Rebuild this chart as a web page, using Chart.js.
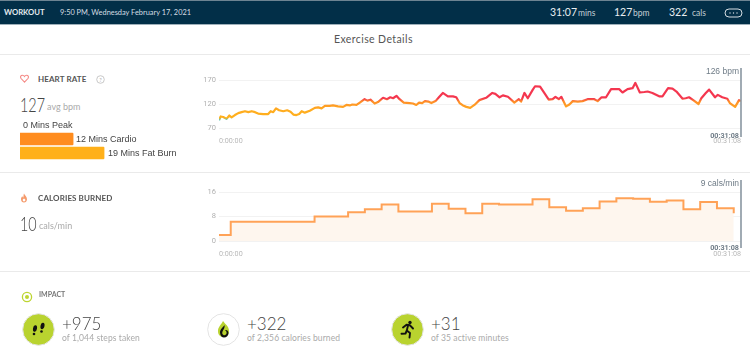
<!DOCTYPE html>
<html>
<head>
<meta charset="utf-8">
<title>Exercise Details</title>
<script src="https://cdn.jsdelivr.net/npm/chart.js@4"></script>
<style>
  html, body { margin: 0; padding: 0; background: #fff; overflow: hidden; }
  body { position: relative; width: 750px; height: 356px; font-family: Lato, "Open Sans", sans-serif; color: #555; }
  .t { position: absolute; white-space: nowrap; line-height: 1; }
  .rule { position: absolute; left: 0; width: 750px; height: 1px; background: #eaeaea; }
  canvas { position: absolute; }
  svg { position: absolute; }
  #header { position: absolute; left: 0; top: 0; width: 750px; height: 25px; background: #022f48; border-top: 1px solid #6d8492; border-bottom: 1px solid #9fb0ba; box-sizing: border-box; }
  .h { color: #d4dde2; }
  .big { color: #e8edf0; font-size: 10.5px; }
  .unit { color: #c3ced5; font-size: 8.5px; }
  .sect { font-size: 8px; font-weight: 700; color: #555; letter-spacing: .1px; }
  .num { font-size: 20px; color: #444; font-weight: 300; transform: scaleX(.72); transform-origin: 0 0; }
  .avg { font-size: 9px; color: #aaa; }
  .zone { font-family: "Liberation Sans", sans-serif; font-size: 9px; color: #444; }
  .val { font-size: 17px; color: #444; font-weight: 300; }
  .sub { font-size: 8.5px; color: #aaa; letter-spacing: .1px; }
  .mark { font-family: "Liberation Sans", sans-serif; font-size: 8.5px; color: #6f7c87; }
  .markb { font-family: Roboto, sans-serif; font-size: 7.2px; font-weight: 700; color: #6f7c87; }
</style>
</head>
<body>

<div id="header"></div>
<div class="t h" style="left:4px;top:9px;font-size:7.7px;font-weight:700;color:#e4eaee">WORKOUT</div>
<div class="t h" style="left:60px;top:9px;font-size:7.4px">9:50 PM, Wednesday February 17, 2021</div>
<div class="t big" style="left:550px;top:7px">31:07</div>
<div class="t unit" style="left:578px;top:9px">mins</div>
<div class="t big" style="left:614px;top:7px">127</div>
<div class="t unit" style="left:633px;top:9px">bpm</div>
<div class="t big" style="left:669px;top:7px">322</div>
<div class="t unit" style="left:692px;top:9px">cals</div>
<svg style="left:724px;top:8px" width="20" height="10" viewBox="0 0 20 10">
  <rect x="1" y="1" width="17" height="8" rx="4" fill="none" stroke="#d4dde2" stroke-width="1"/>
  <circle cx="6" cy="5" r=".7" fill="#d4dde2"/><circle cx="9.5" cy="5" r=".7" fill="#d4dde2"/><circle cx="13" cy="5" r=".7" fill="#d4dde2"/>
</svg>

<div class="t" style="left:334px;top:34px;font-size:10.5px;color:#555;letter-spacing:.4px">Exercise Details</div>
<div class="rule" style="top:54px"></div>
<div class="rule" style="top:172px"></div>
<div class="rule" style="top:271px"></div>

<!-- heart rate panel -->
<svg style="left:20px;top:74px" width="9" height="9" viewBox="0 0 10 10">
  <path d="M5 9 L1.2 5 C0 3.4 .8 1.3 2.7 1.3 C3.7 1.3 4.5 1.8 5 2.7 C5.5 1.8 6.3 1.3 7.3 1.3 C9.2 1.3 10 3.4 8.8 5 Z" fill="none" stroke="#f58a86" stroke-width="1.2"/>
</svg>
<div class="t sect" style="left:38px;top:75px">HEART RATE</div>
<svg style="left:96px;top:75px" width="9" height="9" viewBox="0 0 9 9">
  <circle cx="4.5" cy="4.5" r="3.8" fill="none" stroke="#bbb" stroke-width=".8"/>
  <text x="4.5" y="6.5" font-size="5.5" text-anchor="middle" fill="#aaa" font-family="Lato">?</text>
</svg>
<div class="t num" style="left:20px;top:94px">127</div>
<div class="t avg" style="left:47px;top:102px">avg bpm</div>
<canvas id="zoneChart" width="100" height="42" style="left:20px;top:118px"></canvas>
<div class="t zone" style="left:23px;top:120.5px">0 Mins Peak</div>
<div class="t zone" style="left:76px;top:134.5px">12 Mins Cardio</div>
<div class="t zone" style="left:108px;top:148.5px">19 Mins Fat Burn</div>

<canvas id="heartChart" width="550" height="90" style="left:200px;top:60px"></canvas>
<div class="t mark" style="right:11px;top:67px">126 bpm</div>
<div class="t markb" style="right:11px;top:131.5px">00:31:08</div>

<!-- calories panel -->
<svg style="left:20px;top:193px" width="8" height="10" viewBox="0 0 8 10">
  <path d="M4 .5 C4.6 2.2 7 3.6 7 6.2 C7 8.2 5.6 9.5 4 9.5 C2.4 9.5 1 8.2 1 6.2 C1 5 1.6 4 2.4 3.3 C2.6 4.2 3 4.6 3.3 4.6 C3.6 3.4 3.4 2 4 .5 Z M4 8.4 C4.9 8.4 5.4 7.7 5.4 7 C5.4 6.2 4.6 5.8 4 5.4 C3.5 5.9 2.7 6.2 2.7 7 C2.7 7.8 3.2 8.4 4 8.4 Z" fill="#f59a6b" fill-rule="evenodd"/>
</svg>
<div class="t sect" style="left:38px;top:194px">CALORIES BURNED</div>
<div class="t num" style="left:20px;top:213px">10</div>
<div class="t avg" style="left:39px;top:221px">cals/min</div>

<canvas id="calChart" width="550" height="95" style="left:200px;top:170px"></canvas>
<div class="t mark" style="right:11px;top:179px">9 cals/min</div>
<div class="t markb" style="right:11px;top:243.5px">00:31:08</div>

<!-- impact row -->
<svg style="left:21px;top:291px" width="12" height="12" viewBox="0 0 12 12">
  <circle cx="6" cy="6" r="4.6" fill="none" stroke="#bdd532" stroke-width="1.3"/>
  <circle cx="6" cy="6" r="2" fill="#bdd532"/>
</svg>
<div class="t" style="left:39px;top:291px;font-size:7px;font-weight:700;color:#777">IMPACT</div>

<svg style="left:22px;top:313px" width="33" height="33" viewBox="0 0 33 33">
  <circle cx="16.5" cy="16.5" r="15.8" fill="#b9d32f" stroke="#e4e4e4" stroke-width="1"/>
  <ellipse cx="13" cy="15.5" rx="2" ry="3.2" transform="rotate(10 13 15.5)" fill="#111"/>
  <ellipse cx="12" cy="21" rx="1.3" ry="1.2" fill="#111"/>
  <ellipse cx="20.5" cy="13" rx="2" ry="3.2" transform="rotate(10 20.5 13)" fill="#111"/>
  <ellipse cx="19.5" cy="18.5" rx="1.3" ry="1.2" fill="#111"/>
</svg>
<div class="t val" style="left:62px;top:315px">+975</div>
<div class="t sub" style="left:62px;top:334px">of 1,044 steps taken</div>

<svg style="left:207px;top:313px" width="33" height="33" viewBox="0 0 33 33">
  <circle cx="16.5" cy="16.5" r="15.8" fill="#fff" stroke="#e4e4e4" stroke-width="1"/>
  <path d="M16 8 C18 11 22 13 22 18 C22 22 19.5 24 16.5 24 C13.5 24 11 22 11 18 C11 14 14 12 16 8 Z" fill="#b9d32f"/>
  <path d="M17.5 12 C16.5 14 13 16 13 19.5 C13 22.5 15 24.5 17 24.5 C19.5 24.5 21.5 22.5 21.5 20 C21.5 17.5 19.5 16.5 18 17 C19 18 20 19 19.5 20.5 C19 22 17.5 22.5 16.5 22 C15 21.5 14.8 19.5 16 17.5 C17 16 18 14 17.5 12 Z" fill="#111"/>
</svg>
<div class="t val" style="left:247px;top:315px">+322</div>
<div class="t sub" style="left:247px;top:334px">of 2,356 calories burned</div>

<svg style="left:391px;top:313px" width="33" height="33" viewBox="0 0 33 33">
  <circle cx="16.5" cy="16.5" r="15.8" fill="#b9d32f" stroke="#e4e4e4" stroke-width="1"/>
  <circle cx="19" cy="9.5" r="1.7" fill="#111"/>
  <path d="M12 14.5 L15.5 11.8 L19 12.3 L22 15.5 M17 12.5 L15.8 17.5 L19 20 L18.5 24.5 M15.8 17.5 L14.5 20.5 L10.5 20.8" fill="none" stroke="#111" stroke-width="1.9" stroke-linecap="round" stroke-linejoin="round"/>
</svg>
<div class="t val" style="left:431px;top:315px">+31</div>
<div class="t sub" style="left:431px;top:334px">of 35 active minutes</div>

<script>
// Heart rate, seconds into the workout and bpm
const hrSeconds = [0, 6, 15, 27, 37, 45, 57, 69, 81, 93, 105, 117, 129, 140, 158, 176, 185, 194, 204, 215, 230, 244, 256, 266, 277, 287, 296, 307, 325, 343, 355, 367, 379, 396, 408, 426, 444, 456, 468, 477, 492, 504, 521, 531, 542, 557, 569, 587, 601, 613, 623, 635, 646, 661, 682, 694, 706, 716, 727, 737, 749, 760, 775, 787, 801, 819, 837, 849, 861, 873, 885, 899, 914, 932, 956, 978, 989, 1004, 1016, 1034, 1057, 1073, 1081, 1093, 1105, 1123, 1131, 1149, 1164, 1180, 1194, 1204, 1216, 1225, 1242, 1254, 1266, 1284, 1301, 1319, 1343, 1355, 1369, 1385, 1403, 1420, 1432, 1444, 1462, 1480, 1490, 1506, 1522, 1534, 1551, 1575, 1587, 1607, 1623, 1637, 1659, 1670, 1682, 1697, 1716, 1726, 1742, 1754, 1775, 1785, 1801, 1819, 1828, 1847, 1861, 1868];
const hrBpm = [86, 94, 93, 89, 96, 92, 97, 101, 103, 105, 103, 105, 103, 100, 99, 99, 105, 103, 111, 107, 105, 107, 104, 98, 97, 99, 105, 102, 106, 112, 113, 111, 116, 116, 117, 115, 114, 118, 117, 119, 118, 123, 130, 127, 129, 121, 124, 133, 130, 134, 132, 137, 130, 123, 122, 121, 118, 123, 122, 126, 125, 122, 126, 134, 143, 136, 136, 134, 122, 117, 114, 112, 118, 128, 133, 143, 141, 134, 138, 135, 123, 130, 125, 143, 132, 150, 157, 156, 143, 129, 130, 135, 130, 135, 115, 119, 126, 125, 126, 130, 130, 126, 134, 134, 151, 151, 151, 144, 151, 153, 164, 144, 145, 146, 143, 136, 136, 153, 152, 146, 131, 132, 134, 128, 120, 132, 143, 150, 134, 139, 134, 131, 122, 114, 128, 126];
const hrTicks = [70, 120, 170];

// Calories per minute, each value holds until the next time
const calSeconds = [0, 42, 342, 462, 522, 582, 642, 762, 822, 882, 942, 1002, 1122, 1182, 1242, 1302, 1362, 1422, 1482, 1542, 1602, 1662, 1722, 1782, 1842, 1842];
const calValues = [2, 6.25, 8, 9.4, 10.4, 11.9, 9.6, 12.2, 10.5, 9.1, 12.2, 11.9, 13.6, 11, 9.9, 10.7, 12.9, 14, 13.8, 12.8, 13.2, 10.4, 12.7, 10.7, 10.7, 9.1];
const calTicks = [0, 8, 16];

// Time axis ends
const timeTicks = [0, 1868];
const timeLabels = ['0:00:00', '00:31:08'];

// Heart rate zones
const zoneNames = ['Peak', 'Cardio', 'Fat Burn'];
const zoneMinutes = [0, 12, 19];

// Colour of the heart line by bpm
const hrStops = [[132, '#f4364f'], [125, '#ff8f28'], [108, '#ffac20'], [91, '#ffb01c'], [87, '#62c7b5']];

// vertical marker at the end of the workout
const endMarker = {
    id: 'endMarker',
    afterDatasetsDraw(chart, args, opts) {
        const x = chart.scales.x.getPixelForValue(timeTicks[1]);
        const c = chart.ctx;
        c.save();
        c.strokeStyle = '#8996a1';
        c.lineWidth = 1.6;
        c.beginPath();
        c.moveTo(x, chart.chartArea.top - opts.above);
        c.lineTo(x, chart.chartArea.bottom + opts.below);
        c.stroke();
        c.restore();
    }
};

function hrGradient(context) {
    const chart = context.chart;
    if (!chart.chartArea) return hrStops[1][1];
    const y = chart.scales.y;
    const g = chart.ctx.createLinearGradient(0, y.getPixelForValue(170), 0, y.getPixelForValue(70));
    hrStops.forEach(function(s) {
        g.addColorStop((170 - s[0]) / 100, s[1]);
    });
    return g;
}

function timeScale(tickPadding, bottomHeight) {
    return {
        type: 'linear',
        min: timeTicks[0],
        max: timeTicks[1],
        border: { display: false },
        grid: { display: false, drawTicks: false },
        afterBuildTicks: function(s) { s.ticks = timeTicks.map(function(v) { return { value: v }; }); },
        afterFit: function(s) { s.height = bottomHeight; },
        ticks: {
            autoSkip: false,
            maxRotation: 0,
            align: 'inner',
            padding: tickPadding,
            color: '#b8b8b8',
            font: { family: 'Roboto', size: 7.2 },
            callback: function(v) { return timeLabels[timeTicks.indexOf(v)]; }
        }
    };
}

function valueScale(ticks) {
    return {
        min: ticks[0],
        max: ticks[ticks.length - 1],
        border: { display: false },
        grid: { color: '#f2f2f2', drawTicks: false },
        afterBuildTicks: function(s) { s.ticks = ticks.map(function(v) { return { value: v }; }); },
        afterFit: function(s) { s.width = 19; },
        ticks: {
            padding: 3,
            color: '#b0b0b0',
            font: { family: 'Roboto', size: 7.5 }
        }
    };
}

new Chart(document.getElementById('heartChart'), {
    type: 'line',
    plugins: [endMarker],
    data: {
        datasets: [{
            data: hrSeconds.map(function(s, i) { return { x: s, y: hrBpm[i] }; }),
            borderColor: hrGradient,
            borderWidth: 2.2,
            borderJoinStyle: 'round',
            pointRadius: 0,
            tension: 0
        }]
    },
    options: {
        responsive: false,
        animation: false,
        layout: { padding: { top: 20, right: 8, left: 0, bottom: 0 } },
        plugins: { legend: { display: false }, tooltip: { enabled: false }, endMarker: { above: 12, below: 9 } },
        scales: { x: timeScale(9, 22), y: valueScale(hrTicks) }
    }
});

new Chart(document.getElementById('calChart'), {
    type: 'line',
    plugins: [endMarker],
    data: {
        datasets: [{
            data: calSeconds.map(function(s, i) { return { x: s, y: calValues[i] }; }),
            borderColor: '#ffa257',
            backgroundColor: '#fef6ee',
            borderWidth: 2,
            stepped: true,
            fill: 'origin',
            pointRadius: 0
        }]
    },
    options: {
        responsive: false,
        animation: false,
        layout: { padding: { top: 22, right: 8, left: 0, bottom: 0 } },
        plugins: { legend: { display: false }, tooltip: { enabled: false }, endMarker: { above: 12, below: 7 } },
        scales: { x: timeScale(9, 24), y: valueScale(calTicks) }
    }
});

// Zone bars, peak stays empty at zero
new Chart(document.getElementById('zoneChart'), {
    type: 'bar',
    data: {
        labels: zoneNames,
        datasets: [{
            data: zoneMinutes,
            backgroundColor: ['rgba(0,0,0,0)', '#ff8c1e', '#ffb01a'],
            barThickness: 12,
            borderRadius: 1
        }]
    },
    options: {
        indexAxis: 'y',
        responsive: false,
        animation: false,
        layout: { padding: 0 },
        plugins: { legend: { display: false }, tooltip: { enabled: false } },
        scales: {
            x: { display: false, min: 0, max: 22.6 },
            y: { display: false }
        }
    }
});
</script>
</body>
</html>
